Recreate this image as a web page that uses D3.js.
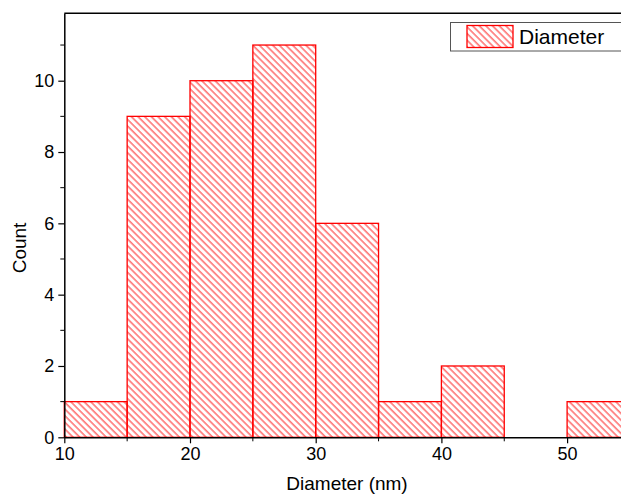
<!DOCTYPE html>
<html>
<head>
<meta charset="utf-8">
<script src="https://cdn.jsdelivr.net/npm/d3@7"></script>
<style>
  html, body { margin: 0; padding: 0; overflow: hidden; background: #fff; }
  svg { display: block; }
</style>
</head>
<body>
<svg id="chart" width="660" height="495"></svg>
<script>
// histogram bins (nm) and counts
var binStarts = [10, 15, 20, 25, 30, 35, 40, 45, 50];
var binWidth = 5;
var counts = [1, 9, 10, 11, 6, 1, 2, 0, 1];
var xTicks = [10, 20, 30, 40, 50];
var yTicks = [0, 2, 4, 6, 8, 10];
var seriesName = "Diameter";

function drawHistogram() {
  var svg = d3.select("svg#chart");
  var plotLeft = 64.3, plotRight = 64.3 + 45 * 12.57,
      plotTop = 13.3, plotBottom = 437.3;

  var x = d3.scaleLinear().domain([10, 55]).range([plotLeft, plotRight]);
  var y = d3.scaleLinear().domain([0, 11.89]).range([plotBottom, plotTop]);

  var font = "Liberation Sans, Arial, sans-serif";

  // hatch pattern
  svg.append("defs").append("pattern")
      .attr("id", "hatch")
      .attr("patternUnits", "userSpaceOnUse")
      .attr("width", 4.7)
      .attr("height", 10)
      .attr("patternTransform", "rotate(-45)")
    .append("line")
      .attr("x1", 1).attr("y1", 0)
      .attr("x2", 1).attr("y2", 10)
      .attr("stroke", "#ff0000")
      .attr("stroke-width", 0.9);

  // bars
  svg.append("g").selectAll("rect")
    .data(binStarts.map(function(s, i) { return {x0: s, x1: s + binWidth, c: counts[i]}; })
                 .filter(function(d) { return d.c > 0; }))
    .enter().append("rect")
      .attr("x", function(d) { return x(d.x0); })
      .attr("y", function(d) { return y(d.c); })
      .attr("width", function(d) { return x(d.x1) - x(d.x0); })
      .attr("height", function(d) { return y(0) - y(d.c); })
      .attr("fill", "url(#hatch)")
      .attr("stroke", "#ff0000")
      .attr("stroke-width", 1.3);

  // axes
  var xAxis = svg.append("g")
      .attr("transform", "translate(0," + plotBottom + ")")
      .call(d3.axisBottom(x).tickValues(xTicks).tickSize(6).tickSizeOuter(0).tickPadding(4));
  xAxis.append("g").selectAll("line")
    .data([15, 25, 35, 45])
    .enter().append("line")
      .attr("x1", function(d) { return x(d); }).attr("x2", function(d) { return x(d); })
      .attr("y1", 0).attr("y2", 4)
      .attr("stroke", "#000");

  var yAxis = svg.append("g")
      .attr("transform", "translate(" + plotLeft + ",0)")
      .call(d3.axisLeft(y).tickValues(yTicks).tickSize(6).tickSizeOuter(0).tickPadding(4));
  yAxis.append("g").selectAll("line")
    .data([1, 3, 5, 7, 9, 11])
    .enter().append("line")
      .attr("x1", 0).attr("x2", -4)
      .attr("y1", function(d) { return y(d); }).attr("y2", function(d) { return y(d); })
      .attr("stroke", "#000");

  svg.selectAll(".domain").attr("stroke", "#000").attr("stroke-width", 1.5);
  svg.selectAll(".tick line").attr("stroke", "#000").attr("stroke-width", 1.2);
  svg.selectAll(".tick text").style("font", "18px " + font).attr("fill", "#000");

  // top frame line
  svg.append("line")
     .attr("x1", plotLeft).attr("x2", 660)
     .attr("y1", plotTop).attr("y2", plotTop)
     .attr("stroke", "#000").attr("stroke-width", 1.5);

  // axis titles
  svg.append("text")
     .text("Diameter (nm)")
     .attr("x", 347).attr("y", 490)
     .attr("text-anchor", "middle")
     .style("font", "19px " + font);

  svg.append("text")
     .text("Count")
     .attr("transform", "translate(26,248) rotate(-90)")
     .attr("text-anchor", "middle")
     .style("font", "19px " + font);

  // legend
  var legend = svg.append("g");
  legend.append("rect")
     .attr("x", 450.5).attr("y", 22.5)
     .attr("width", 200).attr("height", 28.5)
     .attr("fill", "#fff")
     .attr("stroke", "#555").attr("stroke-width", 1);
  legend.append("rect")
     .attr("x", 467).attr("y", 25.5)
     .attr("width", 46).attr("height", 22)
     .attr("fill", "url(#hatch)")
     .attr("stroke", "#ff0000").attr("stroke-width", 1.3);
  legend.append("text")
     .text(seriesName)
     .attr("x", 519).attr("y", 44)
     .style("font", "21px " + font);
}

drawHistogram();
</script>
</body>
</html>
